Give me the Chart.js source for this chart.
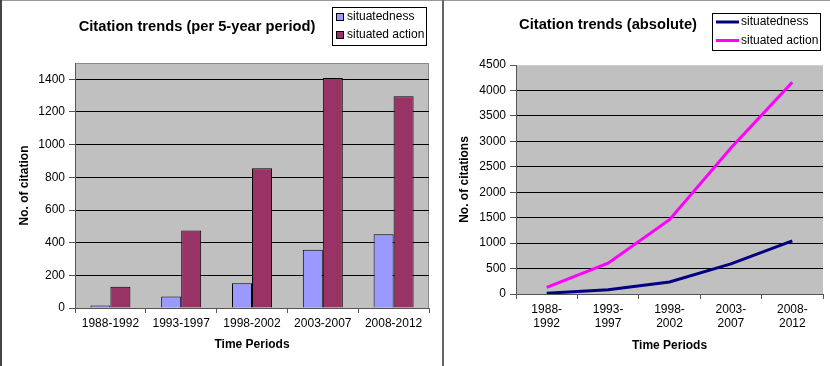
<!DOCTYPE html>
<html>
<head>
<meta charset="utf-8">
<script src="https://cdn.jsdelivr.net/npm/chart.js@4.4.1/dist/chart.umd.min.js"></script>
<style>
  body { margin: 0; background: #fff; }
  #wrap { position: relative; width: 830px; height: 366px; overflow: hidden; background: #fff; }
  canvas { position: absolute; top: 0; }
  #c1 { left: 0; }
  #c2 { left: 445px; }
  .ln { position: absolute; }
</style>
</head>
<body>
<div id="wrap">
  <canvas id="c1" width="443" height="366"></canvas>
  <canvas id="c2" width="385" height="366"></canvas>
  <div class="ln" style="left:0;top:0;width:830px;height:1px;background:#9a9a9a"></div>
  <div class="ln" style="left:0;top:0;width:2px;height:366px;background:#444"></div>
  <div class="ln" style="left:442px;top:0;width:2px;height:366px;background:#666"></div>
</div>
<script>
// data
var categories = ['1988-1992', '1993-1997', '1998-2002', '2003-2007', '2008-2012'];
var periodSituatedness = [15, 70, 152, 356, 451];
var periodSituatedAction = [130, 474, 855, 1408, 1296];
var totalSituatedness = [15, 85, 237, 593, 1044];
var totalSituatedAction = [130, 604, 1459, 2867, 4163];

var FONT = "'Liberation Sans', Arial, sans-serif";
Chart.defaults.font.family = FONT;
Chart.defaults.font.size = 12;
Chart.defaults.color = '#000';

// grey plot background + title + boxed legend
var excelLook = {
    id: 'excelLook',
    beforeDraw: function (chart, args, opts) {
        var a = chart.chartArea, ctx = chart.ctx;
        ctx.save();
        ctx.fillStyle = '#c0c0c0';
        ctx.fillRect(a.left, a.top, a.right - a.left, a.bottom - a.top);
        if (opts.frame) {
            ctx.strokeStyle = '#8a8a8a';
            ctx.lineWidth = 1;
            ctx.beginPath();
            ctx.moveTo(a.left, a.top + 0.5);
            ctx.lineTo(a.right - 0.5, a.top + 0.5);
            ctx.lineTo(a.right - 0.5, a.bottom);
            ctx.stroke();
        }
        ctx.restore();
    },
    afterDraw: function (chart, args, opts) {
        var ctx = chart.ctx;
        ctx.save();
        ctx.fillStyle = '#000';
        ctx.font = 'bold 14.7px ' + FONT;
        ctx.textAlign = 'center';
        ctx.textBaseline = 'middle';
        ctx.fillText(opts.title, opts.titleX, opts.titleY);

        var b = opts.box;
        ctx.fillStyle = '#fff';
        ctx.fillRect(b.x, b.y, b.w, b.h);
        ctx.strokeStyle = '#000';
        ctx.lineWidth = 1;
        ctx.strokeRect(b.x + 0.5, b.y + 0.5, b.w, b.h);
        ctx.font = '12px ' + FONT;
        ctx.textAlign = 'left';
        chart.data.datasets.forEach(function (ds, i) {
            var y = b.y + opts.rowY[i];
            if (opts.kind === 'bar') {
                ctx.fillStyle = ds.backgroundColor;
                ctx.fillRect(b.x + 4, y - 3.5, 7, 7);
                ctx.strokeStyle = '#000';
                ctx.strokeRect(b.x + 4.5, y - 3.5, 7, 7);
            } else {
                ctx.strokeStyle = ds.borderColor;
                ctx.lineWidth = 3;
                ctx.beginPath();
                ctx.moveTo(b.x + 4, y);
                ctx.lineTo(b.x + 27, y);
                ctx.stroke();
            }
            ctx.fillStyle = '#000';
            ctx.fillText(ds.label, b.x + opts.textX, y);
        });
        ctx.restore();
    }
};

function yScale(max, step, width, title, topColor) {
    return {
        min: 0,
        max: max,
        afterBuildTicks: function (axis) {
            axis.ticks = axis.ticks.filter(function (t) { return t.value % step === 0; });
        },
        afterFit: function (s) { s.width = width; },
        ticks: {
            stepSize: step, padding: 4, color: '#000', font: { size: 12 },
            callback: function (v) { return String(v); }
        },
        grid: {
            color: function (c) { return c.tick && c.tick.value === max ? topColor : '#000'; },
            tickColor: '#555',
            tickLength: 6
        },
        border: { display: true, color: '#555' },
        title: { display: true, text: title, padding: 0, font: { size: 12, weight: 'bold' } }
    };
}

function xScale(height) {
    return {
        afterFit: function (s) { s.height = height; },
        ticks: { padding: 3, maxRotation: 0, autoSkip: false, color: '#000', font: { size: 12 } },
        grid: { offset: true, drawOnChartArea: false, tickColor: '#555', tickLength: 5 },
        border: { display: true, color: '#555' },
        title: { display: true, text: 'Time Periods', padding: 0, font: { size: 12, weight: 'bold' } }
    };
}

new Chart(document.getElementById('c1'), {
    type: 'bar',
    data: {
        labels: categories,
        datasets: [{
            label: 'situatedness',
            data: periodSituatedness,
            backgroundColor: '#9999ff',
            borderColor: '#000',
            borderWidth: 1
        }, {
            label: 'situated action',
            data: periodSituatedAction,
            backgroundColor: '#993366',
            borderColor: '#000',
            borderWidth: 1
        }]
    },
    options: {
        responsive: false,
        animation: false,
        categoryPercentage: 0.565,
        barPercentage: 1,
        layout: { padding: { left: 17, right: 14, top: 63, bottom: 14 } },
        scales: {
            x: xScale(44),
            y: yScale(1500, 200, 58, 'No. of citation', 'rgba(0,0,0,0)')
        },
        plugins: {
            legend: { display: false },
            tooltip: { enabled: false },
            excelLook: {
                frame: true,
                title: 'Citation trends (per 5-year period)', titleX: 197, titleY: 27,
                kind: 'bar', box: { x: 332, y: 7, w: 94, h: 38 }, rowY: [10, 28], textX: 15
            }
        }
    },
    plugins: [excelLook]
});

new Chart(document.getElementById('c2'), {
    type: 'line',
    data: {
        labels: categories.map(function (c) { return [c.slice(0, 5), c.slice(5)]; }),
        datasets: [{
            label: 'situatedness',
            data: totalSituatedness,
            borderColor: '#000080',
            backgroundColor: '#000080',
            borderWidth: 3,
            pointRadius: 0,
            tension: 0
        }, {
            label: 'situated action',
            data: totalSituatedAction,
            borderColor: '#ff00ff',
            backgroundColor: '#ff00ff',
            borderWidth: 3,
            pointRadius: 0,
            tension: 0
        }]
    },
    options: {
        responsive: false,
        animation: false,
        layout: { padding: { left: 12, right: 7, top: 65, bottom: 13 } },
        scales: {
            x: Object.assign(xScale(59), { offset: true }),
            y: yScale(4500, 500, 59, 'No. of citations', '#d0d0d0')
        },
        plugins: {
            legend: { display: false },
            tooltip: { enabled: false },
            excelLook: {
                frame: false,
                title: 'Citation trends (absolute)', titleX: 163, titleY: 25,
                kind: 'line', box: { x: 267, y: 13, w: 108, h: 37 }, rowY: [9, 27.5], textX: 29
            }
        }
    },
    plugins: [excelLook]
});
</script>
</body>
</html>
